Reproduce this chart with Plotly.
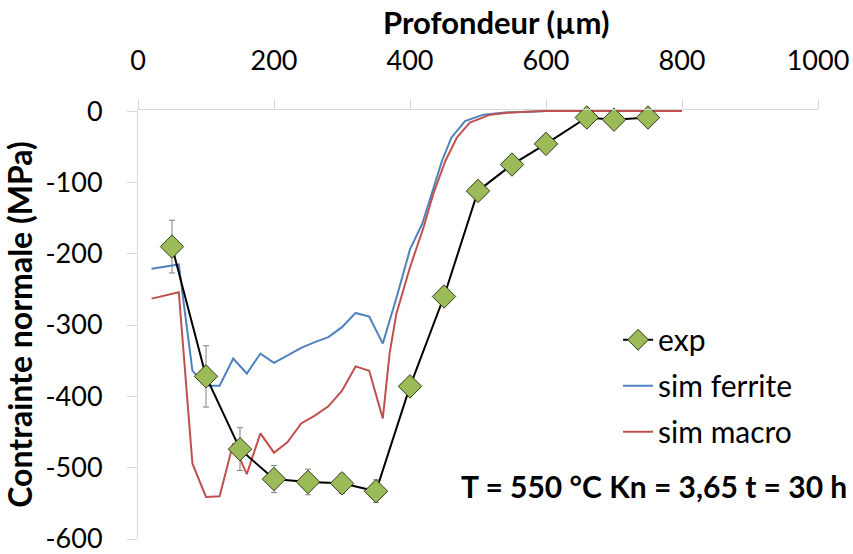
import plotly.graph_objects as go

# experimental points (depth in um, stress in MPa, error bar half-width)
exp_depth = [50, 100, 150, 200, 250, 300, 350, 400, 450, 500, 550, 600, 660, 700, 750]
exp_stress = [-190, -372, -474, -516, -520, -522, -533, -386, -260, -112, -75, -46, -9, -12, -9]
exp_err = [37, 43, 30, 19, 18, 14, 16, 8, 8, 8, 8, 8, 6, 6, 6]

# simulation, ferrite phase
ferrite_depth = [20, 60, 80, 100, 120, 140, 160, 180, 200, 220, 240, 260, 280, 300,
                 320, 340, 360, 380, 400, 418, 432, 447, 461, 481, 508, 540, 600, 800]
ferrite_stress = [-221, -215, -364, -385, -385, -347, -368, -340, -353, -343, -332, -324,
                  -317, -303, -283, -288, -326, -262, -194, -158, -117, -70, -37, -14,
                  -5, -2, 0, 0]

# simulation, macro stress
macro_depth = [20, 60, 80, 100, 120, 140, 160, 180, 200, 220, 240, 260, 280, 300,
               320, 340, 360, 370, 380, 400, 420, 434, 452, 469, 488, 518, 547, 600, 800]
macro_stress = [-263, -254, -494, -541, -540, -466, -509, -452, -479, -464, -438, -427,
                -414, -392, -358, -364, -431, -340, -284, -219, -163, -117, -70, -37,
                -16, -5, -2, 0, 0]

x_ticks = [0, 200, 400, 600, 800, 1000]
y_ticks = [0, -100, -200, -300, -400, -500, -600]

FONT = "Lato, 'Open Sans', sans-serif"
AXIS_GREY = "#d9d9d9"

fig = go.Figure()

fig.add_trace(go.Scatter(
    x=ferrite_depth, y=ferrite_stress,
    mode="lines",
    name="sim ferrite",
    legendgroup="ferrite",
    legendrank=2,
    line=dict(color="#4F81BD", width=2),
))
fig.add_trace(go.Scatter(
    x=macro_depth, y=macro_stress,
    mode="lines",
    name="sim macro",
    legendgroup="macro",
    legendrank=3,
    line=dict(color="#C0504D", width=2),
))
# exp added last so the diamonds sit on top of the simulation curves
fig.add_trace(go.Scatter(
    x=exp_depth, y=exp_stress,
    mode="lines+markers",
    name="exp",
    legendgroup="exp",
    legendrank=1,
    line=dict(color="black", width=2),
    marker=dict(symbol="diamond", size=18, color="#9BBB59",
                line=dict(color="#2f3a1c", width=1)),
    error_y=dict(type="data", array=exp_err, color="#808080",
                 thickness=1, width=3),
    cliponaxis=False,
))

fig.update_layout(
    width=853, height=554,
    margin=dict(l=138, r=35, t=110, b=15),
    paper_bgcolor="white",
    plot_bgcolor="white",
    font=dict(family=FONT, size=27, color="black"),
    showlegend=True,
    legend=dict(
        x=0.706, y=0.525, xanchor="left", yanchor="top",
        font=dict(family=FONT, size=30, color="black"),
        bgcolor="rgba(0,0,0,0)",
        tracegroupgap=4,
        traceorder="grouped",
    ),
    xaxis=dict(
        side="top",
        range=[0, 1000],
        tickvals=x_ticks,
        ticktext=[str(v) for v in x_ticks],
        showline=True, linecolor=AXIS_GREY, linewidth=1,
        ticks="outside", ticklen=10, tickcolor=AXIS_GREY,
        showgrid=False, zeroline=False,
        ticklabelstandoff=18,
        ticklabeloverflow="allow",
        automargin=False,
    ),
    yaxis=dict(
        range=[-600, 1.5],
        tickvals=y_ticks,
        ticktext=[str(v) for v in y_ticks],
        showline=True, linecolor=AXIS_GREY, linewidth=1,
        ticks="outside", ticklen=10, tickcolor=AXIS_GREY,
        showgrid=False, zeroline=False,
        ticklabelstandoff=19,
        ticklabeloverflow="allow",
        automargin=False,
        title=dict(text="<b>Contrainte normale (MPa)</b>",
                   font=dict(family=FONT, size=32), standoff=6),
    ),
)

fig.add_annotation(
    text="<b>Profondeur (µm)</b>",
    xref="paper", yref="paper",
    x=0.527, y=1.205, xanchor="center", yanchor="middle",
    showarrow=False,
    font=dict(family=FONT, size=31, color="black"),
)
fig.add_annotation(
    text="<b>T = 550 °C Kn = 3,65 t = 30 h</b>",
    xref="paper", yref="paper",
    x=1.046, y=0.124, xanchor="right", yanchor="middle",
    showarrow=False,
    font=dict(family=FONT, size=30, color="black"),
)

# drop the browser's default 8px body margin so the figure fills the window
fig.write_html("out.html", config={"displayModeBar": False},
               post_script="document.body.style.margin='0';")
